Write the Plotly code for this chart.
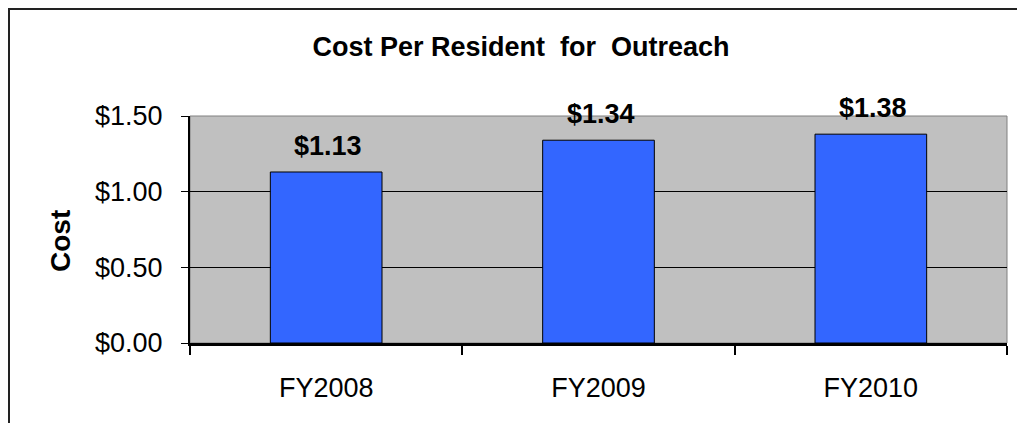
import plotly.graph_objs as go

# data
years = ['FY2008', 'FY2009', 'FY2010']
cost = [1.13, 1.34, 1.38]
cost_labels = ['$1.13', '$1.34', '$1.38']
y_ticks = [0, 0.5, 1.0, 1.5]

FONT = 'Liberation Sans, Arial, sans-serif'

# page has an 8px body margin, so the figure is laid out in (page - 8) pixels
W, H = 1017, 415
L, R, T, B = 182, 18, 108, 80
PW, PH = W - L - R, H - T - B


def px_x(x):
    return (x - 8 - L) / PW


def px_y(y):
    return (H - B - (y - 8)) / PH


fig = go.Figure()
fig.add_trace(go.Bar(x=years, y=cost, marker={'color': '#3366FF', 'line': {'color': 'black', 'width': 1}},
                     hoverinfo='skip'))

# value labels above the bars
for yr, val, lab in zip(years, cost, cost_labels):
    fig.add_annotation(x=yr, y=val, text=f'<b>{lab}</b>', showarrow=False, yanchor='middle', yshift=26,
                       xshift=2, font={'family': FONT, 'size': 27, 'color': 'black'})

# plot area border (grey top/right) and outer chart border
fig.add_shape(type='rect', xref='paper', yref='paper', x0=0, x1=1, y0=0, y1=1,
              line={'color': '#808080', 'width': 1}, layer='below')
fig.add_shape(type='rect', xref='paper', yref='paper', x0=px_x(9), x1=1.2, y0=-0.6, y1=px_y(9),
              line={'color': '#222222', 'width': 2})

fig.update_layout(
    width=W, height=H,
    margin={'l': L, 'r': R, 't': T, 'b': B},
    paper_bgcolor='white', plot_bgcolor='#C0C0C0',
    bargap=0.59, showlegend=False,
    font={'family': FONT, 'color': 'black'},
    title={'text': '<b>Cost Per Resident  for  Outreach</b>', 'x': (521 - 8) / W, 'xanchor': 'center',
           'y': 1 - (47 - 8) / H, 'yanchor': 'middle', 'font': {'size': 27, 'family': FONT}},
)
fig.add_annotation(xref='paper', yref='paper', x=px_x(60), y=px_y(241), xanchor='center', yanchor='middle',
                   text='<b>Cost</b>', textangle=-90, showarrow=False,
                   font={'family': FONT, 'size': 28, 'color': 'black'})

fig.update_xaxes(showgrid=False, showline=True, linecolor='black', linewidth=3, tickson='boundaries',
                 ticks='outside', ticklen=9, tickwidth=2, tickcolor='black', range=[-0.5, 2.5],
                 tickfont={'size': 27}, ticklabelstandoff=19)
fig.update_yaxes(range=[0, 1.5], tickvals=y_ticks, tickformat='$.2f', showgrid=True, gridcolor='black',
                 gridwidth=1, showline=True, linecolor='black', linewidth=2, ticks='outside', ticklen=7,
                 tickwidth=1, tickcolor='black', tickfont={'size': 27}, zeroline=False, ticklabelstandoff=13)

fig.write_html('out.html')
